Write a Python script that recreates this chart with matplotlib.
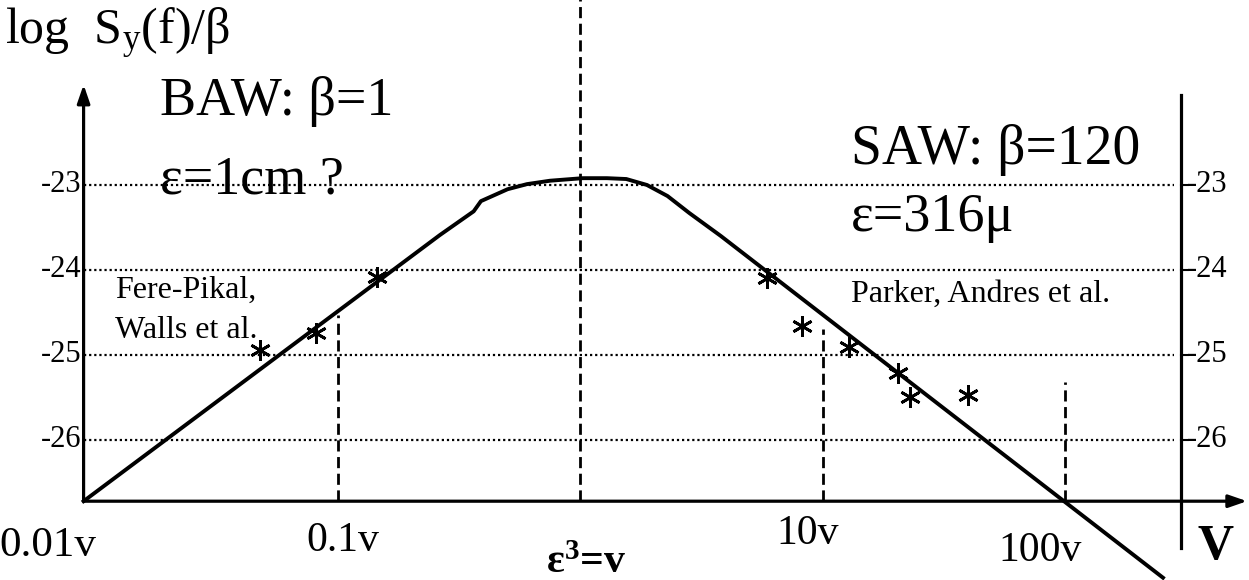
#!/usr/bin/env python3
"""Flicker floor log S_y(f)/beta versus frequency: BAW and SAW sketch."""

import matplotlib

matplotlib.use("Agg")
import matplotlib.pyplot as plt

plt.rcParams["font.family"] = ["Liberation Serif", "DejaVu Serif"]
plt.rcParams["mathtext.fontset"] = "custom"
plt.rcParams["mathtext.rm"] = "Liberation Serif"
plt.rcParams["mathtext.it"] = "Liberation Serif"
plt.rcParams["mathtext.bf"] = "Liberation Serif:bold"

# x is log10(f / v), y is log S_y(f)/beta
CURVE_X = [-2.05, -0.58, -0.44, -0.41, -0.30, -0.22, -0.125, 0.01, 0.11, 0.19,
           0.275, 0.36, 0.45, 0.58, 2.405]
CURVE_Y = [-26.72, -23.59, -23.31, -23.19, -23.05, -22.99, -22.95, -22.92, -22.92,
           -22.93, -23.00, -23.13, -23.33, -23.60, -27.62]

BAW_X = [-1.32, -1.09, -0.84]
BAW_Y = [-24.94, -24.74, -24.08]
SAW_X = [0.77, 0.915, 1.11, 1.31, 1.36, 1.60]
SAW_Y = [-24.09, -24.66, -24.91, -25.21, -25.50, -25.47]

GRID_LEVELS = [-23, -24, -25, -26]
GRID_LABELS = ["-23", "-24", "-25", "-26"]

DECADES = [-1, 0, 1, 2]
DECADE_TOPS = [-24.53, -20.8, -24.70, -25.32]
DECADE_LABELS = ["0.1v", r"ε$\mathbf{^3}$=v", "10v", "100v"]

X_LEFT, X_RIGHT, X_ARROW = -2.05, 2.48, 2.752
Y_BOTTOM, Y_ARROW = -26.72, -21.82


def main() -> None:
    fig = plt.figure(figsize=(12.49, 5.80), dpi=100)
    ax = fig.add_axes([0, 0, 1, 1])
    ax.set_xlim(-2.395, 2.760)
    ax.set_ylim(-27.647, -20.824)
    ax.axis("off")

    # dotted horizontal grid between the two axes
    for level in GRID_LEVELS:
        ax.plot([X_LEFT, X_RIGHT - 0.03], [level, level], color="black",
                linewidth=1.6, linestyle=(0, (1, 1.3)))

    # dashed decade markers
    for xd, top in zip(DECADES, DECADE_TOPS):
        ax.plot([xd, xd], [Y_BOTTOM, top], color="black",
                linewidth=2.0, linestyle=(0, (4, 2)))

    # axes with arrows
    arrow = dict(arrowstyle="-|>,head_length=1.1,head_width=0.38",
                 color="black", lw=2.3, shrinkA=0, shrinkB=0)
    ax.annotate("", xy=(X_LEFT, Y_ARROW), xytext=(X_LEFT, Y_BOTTOM),
                arrowprops=arrow)
    ax.annotate("", xy=(X_ARROW, Y_BOTTOM), xytext=(X_LEFT, Y_BOTTOM),
                arrowprops=arrow)
    ax.plot([X_RIGHT, X_RIGHT], [-27.27, -21.94], color="black", linewidth=2.3)

    # response curve and measured points
    ax.plot(CURVE_X, CURVE_Y, color="black", linewidth=2.8,
            solid_joinstyle="round")
    ax.plot(BAW_X + SAW_X, BAW_Y + SAW_Y, linestyle="none", marker=(6, 2, 0),
            markersize=15, markeredgewidth=2.0, color="black")

    # tick labels on both vertical axes
    for level, label in zip(GRID_LEVELS, GRID_LABELS):
        ax.text(X_LEFT - 0.008, level, label, fontsize=22, ha="right",
                va="center")
        ax.plot([X_RIGHT, X_RIGHT + 0.03], [level, level], color="black", lw=1.5)
        ax.text(X_RIGHT + 0.025, level, label, fontsize=22, ha="left",
                va="center")

    # frequency labels
    ax.text(-2.197, -27.24, "0.01v", fontsize=31, ha="center", va="center")
    label_x = [-0.979, 0.0235, 0.940, 1.897]
    label_y = [-27.18, -27.45, -27.10, -27.30]
    for lx, ly, label in zip(label_x, label_y, DECADE_LABELS):
        weight = "bold" if "ε" in label else "normal"
        ax.text(lx, ly, label, fontsize=30, ha="center", va="center",
                fontweight=weight)
    ax.text(2.62, -27.26, "V", fontsize=36, fontweight="bold",
            ha="center", va="center")

    ax.text(-2.374, -21.22, r"log  S$_\mathregular{y}$(f)/β", fontsize=36,
            ha="left", va="center")
    ax.text(-1.735, -22.02, "BAW: β=1", fontsize=39, ha="left", va="center")
    ax.text(-1.735, -22.95, "ε=1cm ?", fontsize=39, ha="left", va="center")
    ax.text(1.116, -22.59, "SAW: β=120", fontsize=40, ha="left", va="center")
    ax.text(1.116, -23.38, "ε=316μ", fontsize=39, ha="left", va="center")
    ax.text(1.116, -24.29, "Parker, Andres et al.", fontsize=23,
            ha="left", va="center")
    ax.text(-1.92, -24.24, "Fere-Pikal,", fontsize=23, ha="left", va="center")
    ax.text(-1.92, -24.71, "Walls et al.", fontsize=23, ha="left", va="center")

    fig.savefig("out.png", dpi=100)
    plt.close(fig)


if __name__ == "__main__":
    main()
